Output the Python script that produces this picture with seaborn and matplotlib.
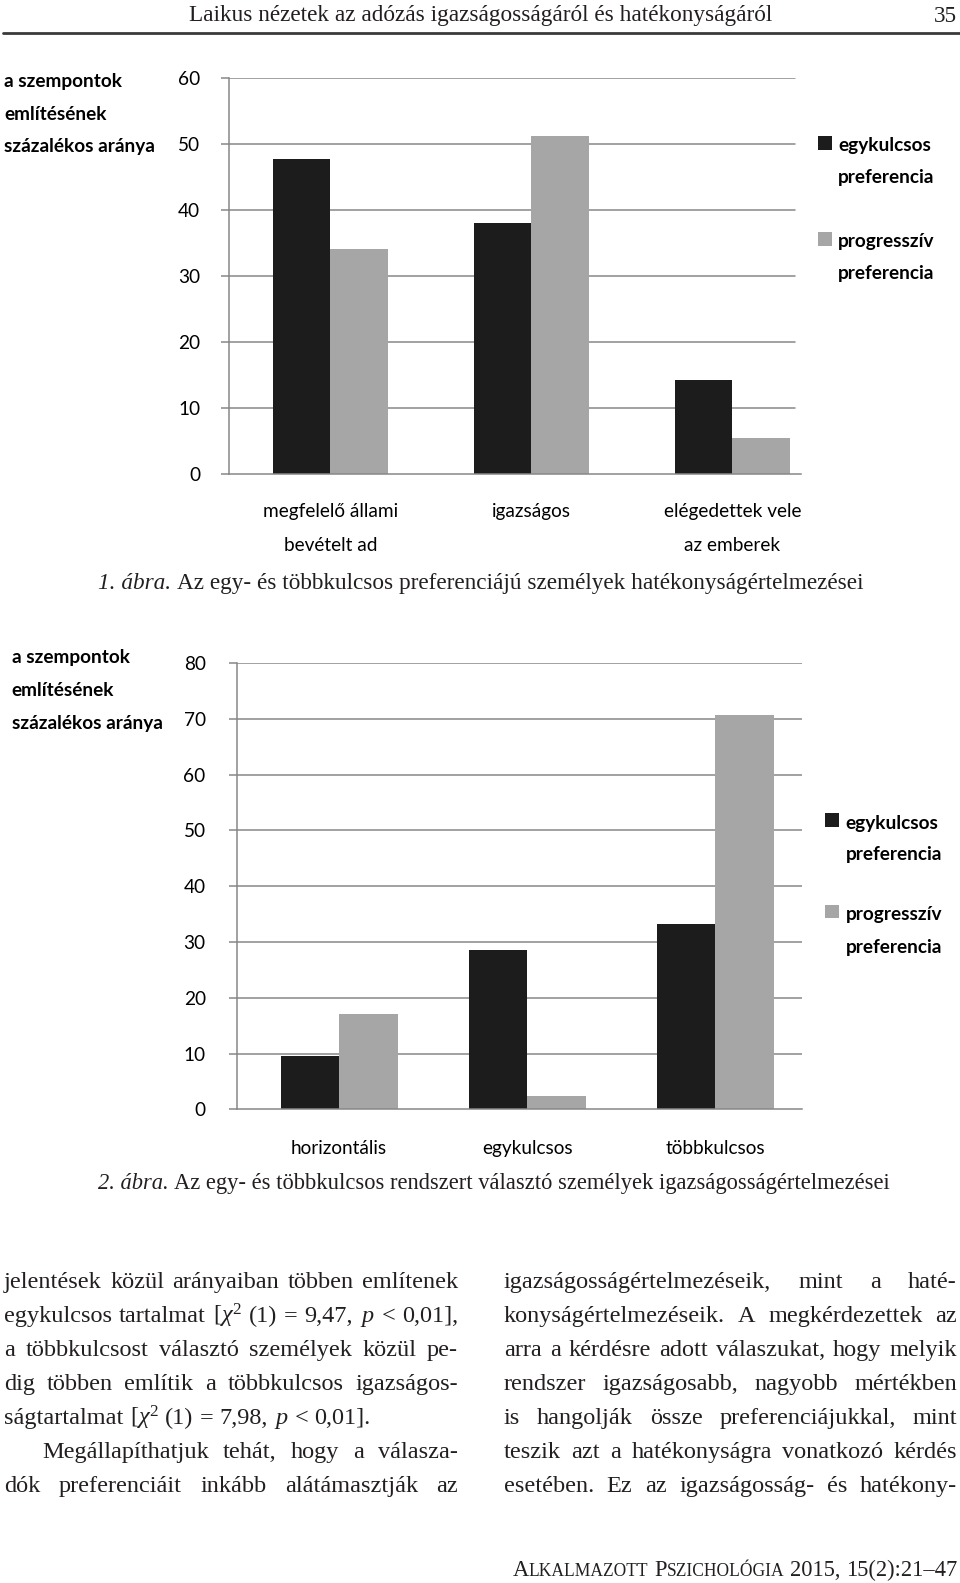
import matplotlib
matplotlib.use("Agg")
import matplotlib.pyplot as plt
import seaborn as sns
import pandas as pd
from matplotlib.patches import Rectangle
from matplotlib.lines import Line2D

# ---------------- DONNEES ---------------- #
cats1 = ["megfelelő állami\nbevételt ad", "igazságos", "elégedettek vele\naz emberek"]
egy1 = [47.7, 38.1, 14.3]
prog1 = [34.1, 51.2, 5.4]

cats2 = ["horizontális", "egykulcsos", "többkulcsos"]
egy2 = [9.5, 28.5, 33.3]
prog2 = [17.1, 2.4, 70.8]

series = ["egykulcsos preferencia", "progresszív preferencia"]
yticks1 = [0, 10, 20, 30, 40, 50, 60]
yticks2 = [0, 10, 20, 30, 40, 50, 60, 70, 80]
ylabel_lines = ["a szempontok", "említésének", "százalékos aránya"]
legend_lines = [["egykulcsos", "preferencia"], ["progresszív", "preferencia"]]

header = "Laikus nézetek az adózás igazságosságáról és hatékonyságáról"
page_no = "35"
caption1 = ("1. ábra.", "Az egy- és többkulcsos preferenciájú személyek hatékonyságértelmezései")
caption2 = ("2. ábra.", "Az egy- és többkulcsos rendszert választó személyek igazságosságértelmezései")

left_col = [
    "jelentések közül arányaiban többen említenek",
    "egykulcsos tartalmat [$\\chi^2$ (1) = 9,47, $p$ < 0,01],",
    "a többkulcsost választó személyek közül pe-",
    "dig többen említik a többkulcsos igazságos-",
    "ságtartalmat [$\\chi^2$ (1) = 7,98, $p$ < 0,01].",
    "Megállapíthatjuk tehát, hogy a válasza-",
    "dók preferenciáit inkább alátámasztják az",
]
right_col = [
    "igazságosságértelmezéseik, mint a haté-",
    "konyságértelmezéseik. A megkérdezettek az",
    "arra a kérdésre adott válaszukat, hogy melyik",
    "rendszer igazságosabb, nagyobb mértékben",
    "is hangolják össze preferenciájukkal, mint",
    "teszik azt a hatékonyságra vonatkozó kérdés",
    "esetében. Ez az igazságosság- és hatékony-",
]

# ---------------- STYLE ---------------- #
sns.set_theme(style="white")
plt.rcParams["font.family"] = ["Lato", "DejaVu Sans"]
plt.rcParams["mathtext.fontset"] = "custom"
plt.rcParams["mathtext.rm"] = "Liberation Serif"
plt.rcParams["mathtext.it"] = "Liberation Serif:italic"
plt.rcParams["mathtext.bf"] = "Liberation Serif:bold"

BLACK = "#1c1c1c"
GREY = "#a6a6a6"
GRID = "#878787"
INK = "#231f20"
SERIF = ["Liberation Serif", "DejaVu Serif"]
CSIZE = 13.7  # taille du texte des graphiques

W, H = 960, 1583
fig = plt.figure(figsize=(W / 100, H / 100), dpi=100)
renderer = fig.canvas.get_renderer()


def measure(s, **kw):
    t = fig.text(0, 0, s, **kw)
    w = t.get_window_extent(renderer).width
    t.remove()
    return w


def put(x, yb, s, **kw):
    """texte place en pixels, yb = ligne de base"""
    return fig.text(x / W, 1 - yb / H, s, va="baseline", **kw)


def draw_runs(runs, x, yb, align="left"):
    widths = [r if isinstance(r, (int, float)) else measure(r[0], **r[1]) for r in runs]
    total = sum(widths)
    if align == "center":
        x -= total / 2
    elif align == "right":
        x -= total
    for r, w in zip(runs, widths):
        if not isinstance(r, (int, float)):
            put(x, yb, r[0], ha="left", **r[1])
        x += w


def justify(line, x0, x1, yb, kw, natural=False, indent=0):
    words = line.split(" ")
    widths = [measure(w, **kw) for w in words]
    if natural:
        gap = measure("a a", **kw) - measure("aa", **kw)
    else:
        gap = (x1 - x0 - indent - sum(widths)) / (len(words) - 1)
    x = x0 + indent
    for w, wd in zip(words, widths):
        put(x, yb, w, ha="left", **kw)
        x += wd + gap


def natural_width(line, kw):
    words = line.split(" ")
    sp = measure("a a", **kw) - measure("aa", **kw)
    return sum(measure(w, **kw) for w in words) + sp * (len(words) - 1)


def add_axes(left, right, top, bottom):
    return fig.add_axes([left / W, 1 - bottom / H, (right - left) / W, (bottom - top) / H])


def chart(ax, cats, egy, prog, yticks, width, xlim, grid_end, ypad, xpad, linesp):
    df = pd.DataFrame({
        "cat": cats + cats,
        "serie": [series[0]] * len(cats) + [series[1]] * len(cats),
        "val": egy + prog,
    })
    sns.barplot(data=df, x="cat", y="val", hue="serie", order=cats, hue_order=series,
                palette=[BLACK, GREY], width=width, saturation=1, linewidth=0,
                errorbar=None, legend=False, ax=ax, zorder=2)
    ax.set_xlim(*xlim)
    ax.set_ylim(0, yticks[-1])
    ax.set_yticks(yticks)
    ax.set_xlabel("")
    ax.set_ylabel("")
    for v in yticks[1:]:
        ax.axhline(v, xmin=0, xmax=grid_end, color=GRID, lw=1.1, zorder=1)
    sns.despine(ax=ax)
    for side in ["left", "bottom"]:
        ax.spines[side].set_color(GRID)
        ax.spines[side].set_linewidth(1.1)
    ax.tick_params(axis="y", length=5.8, width=1.1, color=GRID, pad=ypad,
                   labelsize=CSIZE, labelcolor="black", left=True)
    ax.tick_params(axis="x", length=0, pad=xpad, labelsize=CSIZE, labelcolor="black")
    for lab in ax.get_xticklabels():
        lab.set_linespacing(linesp)
    ax.set_facecolor("none")


def ylabel_block(x, baselines):
    for s, yb in zip(ylabel_lines, baselines):
        put(x, yb, s, ha="left", fontsize=CSIZE, fontweight="bold", color="black")


def legend_block(sq_x, sq_tops, sq, tx, baselines):
    colors = [BLACK, GREY]
    for i in range(2):
        fig.add_artist(Rectangle((sq_x / W, 1 - (sq_tops[i] + sq) / H), sq / W, sq / H,
                                 transform=fig.transFigure, color=colors[i], lw=0))
        for j in range(2):
            put(tx, baselines[i][j], legend_lines[i][j], ha="left",
                fontsize=CSIZE, fontweight="bold", color="black")


# ---------------- EN-TETE ---------------- #
hsize = 10 * 583 / measure(header, fontsize=10, family=SERIF)
put(481, 21.5, header, ha="center", fontsize=hsize, family=SERIF, color=INK)
put(957, 21.5, page_no, ha="right", fontsize=hsize, family=SERIF, color=INK)
fig.add_artist(Line2D([3 / W, 1], [1 - 33 / H] * 2, transform=fig.transFigure,
                      color="#3a3a3a", lw=2.0))

# ---------------- GRAPHIQUE 1 ---------------- #
ax1 = add_axes(229, 801, 78.3, 474)
chart(ax1, cats1, egy1, prog1, yticks1, 0.572, (-0.505, 2.341), 0.9895,
      ypad=15, xpad=21, linesp=2.2)
ylabel_block(4, [87.4, 119.7, 152])
legend_block(817.7, [136, 231.7], 14, 838, [[151.4, 183], [247.4, 279]])

# ---------------- GRAPHIQUE 2 ---------------- #
ax2 = add_axes(236.7, 802.3, 663.2, 1109.3)
chart(ax2, cats2, egy2, prog2, yticks2, 0.624, (-0.545, 2.463), 1.0,
      ypad=16.5, xpad=22, linesp=2.2)
ylabel_block(11.7, [663.3, 696, 728.6])
legend_block(825, [813.2, 905], 13.5, 845.7, [[828.7, 860.4], [920.4, 952.6]])

# ---------------- LEGENDES DES FIGURES ---------------- #
def caption(cap, x_center, yb, target):
    it = dict(fontsize=10, family=SERIF, style="italic", color=INK)
    rm = dict(fontsize=10, family=SERIF, color=INK)
    sp = measure("a a", **rm) - measure("aa", **rm)
    k = target / (measure(cap[0], **it) + sp + measure(cap[1], **rm))
    it["fontsize"] *= k
    rm["fontsize"] *= k
    draw_runs([(cap[0], it), sp * k, (cap[1], rm)], x_center, yb, align="center")


caption(caption1, 481, 589, 764)
caption(caption2, 494, 1189, 790)

# ---------------- TEXTE COURANT ---------------- #
# la plus grande taille ou aucune ligne justifiee ne deborde
body = dict(fontsize=10, family=SERIF, color=INK)
fits = []
for i, line in enumerate(left_col):
    if i != 4:
        room = 454 - (38 if i == 5 else 0)
        fits.append(10 * (room - 3) / natural_width(line, body))
for line in right_col:
    fits.append(10 * (453 - 3) / natural_width(line, body))
body["fontsize"] = min(fits)

step = 34
for i, line in enumerate(left_col):
    yb = 1288 + i * step
    justify(line, 4, 458, yb, body, natural=(i == 4), indent=38 if i == 5 else 0)
for i, line in enumerate(right_col):
    yb = 1288 + i * step
    justify(line, 504, 957, yb, body)

# ---------------- PIED DE PAGE ---------------- #
big = dict(fontsize=10, family=SERIF, color=INK)
small = dict(fontsize=7.8, family=SERIF, color=INK)
spf = measure("a a", **big) - measure("aa", **big)
parts = [("A", big), ("LKALMAZOTT", small), spf, ("P", big), ("SZICHOLÓGIA", small), spf,
         ("2015,", big), spf, ("15(2):21–47", big)]
wf = sum(p if isinstance(p, (int, float)) else measure(p[0], **p[1]) for p in parts)
k = 448 / wf
big["fontsize"] *= k
small["fontsize"] *= k
spf *= k
parts = [("A", big), ("LKALMAZOTT", small), spf, ("P", big), ("SZICHOLÓGIA", small), spf,
         ("2015,", big), spf, ("15(2):21–47", big)]
draw_runs(parts, 957, 1576, align="right")

fig.savefig("out.png", dpi=100)
